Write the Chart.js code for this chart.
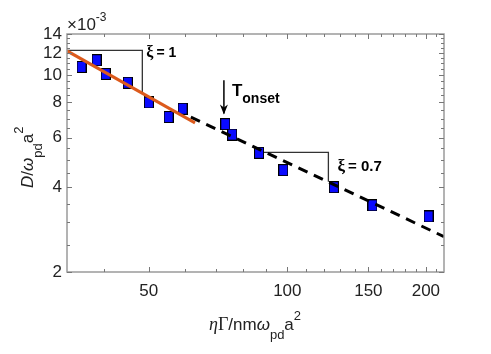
<!DOCTYPE html>
<html>
<head>
<meta charset="utf-8">
<script src="https://cdn.jsdelivr.net/npm/chart.js@4/dist/chart.umd.min.js"></script>
<style>
  html, body { margin: 0; padding: 0; background: #fff; }
  #wrap { width: 491px; height: 354px; }
</style>
</head>
<body>
<div id="wrap"><canvas id="chart" width="491" height="354"></canvas></div>
<script>
// measured points (y in units of 1e-3)
const xVals = [35.7, 38.5, 40.3, 45.0, 50.0, 55.2, 59.2, 73.3, 75.9, 86.8, 98.0, 126.2, 153.1, 202.7];
const yVals = [10.7, 11.3, 10.1, 9.4, 8.0, 7.1, 7.6, 6.7, 6.15, 5.3, 4.6, 4.0, 3.45, 3.15];

// fit lines
const fitX = [33.2, 63.0];
const fitY = [12.19, 6.77];
const dashX = [61.7, 219];
const dashY = [7.10, 2.67];

// slope triangles
const tri1X = [33.2, 48.4, 48.4];
const tri1Y = [12.25, 12.25, 8.65];
const tri2X = [86.8, 122.8, 122.8];
const tri2Y = [5.32, 5.32, 4.18];

// onset arrow
const arrowX = [72.8, 72.8];
const arrowY = [9.6, 7.31];

// ticks
const xTicks = [40, 50, 60, 70, 80, 90, 100, 110, 120, 130, 140, 150, 160, 170, 180, 190, 200, 210];
const xLabels = [50, 100, 150, 200];
const yTicks = [2, 2.5, 3, 3.5, 4, 4.5, 5, 5.5, 6, 6.5, 7, 7.5, 8, 8.5, 9, 9.5, 10, 10.5, 11, 11.5, 12, 12.5, 13, 13.5, 14];
const yLabels = [2, 4, 6, 8, 10, 12, 14];

const NARROW = '"Liberation Sans Narrow", "Arial Narrow", "Liberation Sans", Arial, sans-serif';

function pairs(xs, ys) {
    return xs.map((x, i) => ({ x: x, y: ys[i] }));
}

// blue square marker
const marker = document.createElement('canvas');
marker.width = 10;
marker.height = 12;
const mctx = marker.getContext('2d');
mctx.fillStyle = '#000';
mctx.fillRect(0, 0, 10, 12);
mctx.fillStyle = '#0a0aff';
mctx.fillRect(1, 1, 8, 10);

function drawParts(ctx, x, y, parts) {
    parts.forEach(p => {
        ctx.font = p.f;
        ctx.fillText(p.t, x, y + (p.dy || 0));
        x += ctx.measureText(p.t).width + (p.sp || 0);
    });
}

const decorPlugin = {
    id: 'decor',
    afterDatasetsDraw(chart) {
        const ctx = chart.ctx;
        const xs = chart.scales.x, ys = chart.scales.y;
        // arrow head
        const tx = xs.getPixelForValue(arrowX[1]);
        const ty = ys.getPixelForValue(arrowY[1]);
        ctx.save();
        ctx.fillStyle = '#000';
        ctx.beginPath();
        ctx.moveTo(tx, ty + 1);
        ctx.lineTo(tx - 4, ty - 9);
        ctx.lineTo(tx, ty - 6);
        ctx.lineTo(tx + 4, ty - 9);
        ctx.closePath();
        ctx.fill();

        ctx.fillStyle = '#000';
        ctx.textBaseline = 'alphabetic';
        ctx.textAlign = 'left';
        // T onset
        drawParts(ctx, tx + 8, ty - 17, [
            { t: 'T', f: 'bold 17px ' + NARROW },
            { t: 'onset', f: 'bold 14px ' + NARROW, dy: 7 }
        ]);
        // xi labels
        const c1x = xs.getPixelForValue(tri1X[1]);
        const c1y = ys.getPixelForValue(tri1Y[1]);
        drawParts(ctx, c1x + 4, c1y + 7, [
            { t: 'ξ', f: 'bold 16px "Liberation Serif", serif', sp: 3 },
            { t: '= 1', f: 'bold 14px ' + NARROW }
        ]);
        const c2x = xs.getPixelForValue(tri2X[1]);
        const c2y = ys.getPixelForValue(tri2Y[1]);
        drawParts(ctx, c2x + 9, c2y + 19, [
            { t: 'ξ', f: 'bold 17px "Liberation Serif", serif', sp: 3 },
            { t: '= 0.7', f: 'bold 15px ' + NARROW }
        ]);
        ctx.restore();
    },
    afterDraw(chart) {
        const ctx = chart.ctx;
        const a = chart.chartArea;
        const xs = chart.scales.x, ys = chart.scales.y;
        ctx.save();
        // frame
        ctx.strokeStyle = '#9a9a9a';
        ctx.lineWidth = 1.5;
        ctx.strokeRect(a.left, a.top, a.right - a.left, a.bottom - a.top);
        // ticks
        ctx.strokeStyle = '#777';
        ctx.lineWidth = 1;
        ctx.beginPath();
        xTicks.forEach(v => {
            const px = Math.round(xs.getPixelForValue(v)) + 0.5;
            const len = xLabels.includes(v) ? 5 : 3;
            ctx.moveTo(px, a.bottom); ctx.lineTo(px, a.bottom - len);
            ctx.moveTo(px, a.top); ctx.lineTo(px, a.top + len);
        });
        yTicks.forEach(v => {
            const py = Math.round(ys.getPixelForValue(v)) + 0.5;
            const len = yLabels.includes(v) ? 5 : 3;
            ctx.moveTo(a.left, py); ctx.lineTo(a.left + len, py);
            ctx.moveTo(a.right, py); ctx.lineTo(a.right - len, py);
        });
        ctx.stroke();

        ctx.fillStyle = '#222';
        ctx.textAlign = 'left';
        ctx.textBaseline = 'alphabetic';
        // exponent
        drawParts(ctx, 67, 30, [
            { t: '×10', f: '17px ' + NARROW },
            { t: '-3', f: '12px ' + NARROW, dy: -9 }
        ]);
        // x title
        drawParts(ctx, 209, 330, [
            { t: 'η', f: 'italic 18px "Liberation Serif", serif' },
            { t: 'Γ', f: '18px "Liberation Serif", serif' },
            { t: '/nm', f: '17px ' + NARROW },
            { t: 'ω', f: 'italic 17px ' + NARROW },
            { t: 'pd', f: '13px ' + NARROW, dy: 9 },
            { t: 'a', f: '17px ' + NARROW },
            { t: '2', f: '13px ' + NARROW, dy: -10 }
        ]);
        // y title
        ctx.translate(33, 188);
        ctx.rotate(-Math.PI / 2);
        drawParts(ctx, 0, 0, [
            { t: 'D', f: 'italic 17px ' + NARROW },
            { t: '/', f: '17px ' + NARROW },
            { t: 'ω', f: 'italic 17px ' + NARROW },
            { t: 'pd', f: '13px ' + NARROW, dy: 9 },
            { t: 'a', f: '17px ' + NARROW },
            { t: '2', f: '13px ' + NARROW, dy: -10 }
        ]);
        ctx.restore();
    }
};

const ctx = document.getElementById('chart').getContext('2d');
new Chart(ctx, {
    type: 'scatter',
    data: {
        datasets: [
            {
                label: 'data',
                data: pairs(xVals, yVals),
                pointStyle: marker,
                pointRadius: 6,
                showLine: false,
                order: 2
            },
            {
                label: 'fit',
                data: pairs(fitX, fitY),
                showLine: true,
                borderColor: '#dc5a1c',
                borderWidth: 3,
                pointRadius: 0,
                order: 1
            },
            {
                label: 'dashed',
                data: pairs(dashX, dashY),
                showLine: true,
                borderColor: '#000',
                borderWidth: 3,
                borderDash: [10, 7],
                pointRadius: 0,
                order: 1
            },
            {
                label: 'tri1',
                data: pairs(tri1X, tri1Y),
                showLine: true,
                borderColor: '#333',
                borderWidth: 1.3,
                pointRadius: 0,
                order: 3
            },
            {
                label: 'tri2',
                data: pairs(tri2X, tri2Y),
                showLine: true,
                borderColor: '#333',
                borderWidth: 1.3,
                pointRadius: 0,
                order: 3
            },
            {
                label: 'arrow',
                data: pairs(arrowX, arrowY),
                showLine: true,
                borderColor: '#000',
                borderWidth: 1.5,
                pointRadius: 0,
                order: 1
            }
        ]
    },
    options: {
        responsive: false,
        animation: false,
        devicePixelRatio: 1,
        layout: { padding: { left: 0, right: 47, top: 34, bottom: 0 } },
        plugins: {
            legend: { display: false },
            tooltip: { enabled: false }
        },
        scales: {
            x: {
                type: 'logarithmic',
                min: 33.2,
                max: 219,
                bounds: 'data',
                grid: { display: false, drawTicks: false },
                border: { display: false },
                afterBuildTicks: (scale) => { scale.ticks = xTicks.map(v => ({ value: v })); },
                afterFit: (scale) => { scale.height = 82; },
                ticks: {
                    autoSkip: false,
                    maxRotation: 0,
                    padding: 9,
                    color: '#222',
                    font: { family: NARROW, size: 17 },
                    callback: (v) => xLabels.includes(v) ? String(v) : ''
                }
            },
            y: {
                type: 'logarithmic',
                min: 2,
                max: 14,
                bounds: 'data',
                grid: { display: false, drawTicks: false },
                border: { display: false },
                afterBuildTicks: (scale) => { scale.ticks = yTicks.map(v => ({ value: v })); },
                afterFit: (scale) => { scale.width = 67; },
                ticks: {
                    autoSkip: false,
                    padding: 5,
                    color: '#222',
                    font: { family: NARROW, size: 17 },
                    callback: (v) => yLabels.includes(v) ? String(v) : ''
                }
            }
        }
    },
    plugins: [decorPlugin]
});
</script>
</body>
</html>
